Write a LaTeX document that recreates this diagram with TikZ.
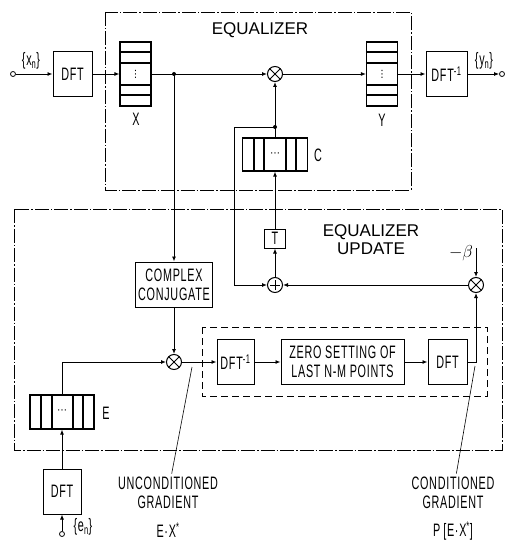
\documentclass[tikz,border=0pt]{standalone}
\usepackage{fontspec}
\setsansfont{Liberation Sans}
\newfontfamily\narrowfont{Liberation Sans}[FakeStretch=0.6, LetterSpace=4]
\newfontfamily\dotsfont{DejaVu Sans}
\usepackage{tikz}
\usetikzlibrary{arrows.meta}

\begin{document}
\begin{tikzpicture}[x=1pt, y=-1pt,
        every node/.style={font=\narrowfont\fontsize{18}{19}\selectfont},
        block/.style={rectangle, draw, line width=1pt, minimum width=#1, minimum height=45, inner sep=1pt, align=center},
        reg/.style={rectangle, draw, line width=1.2pt, inner sep=0pt, font=\dotsfont\fontsize{10}{10}\selectfont},
        mult/.style={circle, draw, line width=1pt, minimum size=15, inner sep=0pt,
            path picture={\draw[line width=1pt] (path picture bounding box.center) +(45:8) -- +(225:8) +(135:8) -- +(-45:8);}},
        add/.style={circle, draw, line width=1pt, minimum size=15, inner sep=0pt,
            path picture={\draw[line width=1pt] (path picture bounding box.center) +(0:5) -- +(180:5) +(90:5) -- +(-90:5);}},
        term/.style={circle, draw, line width=0.8pt, fill=white, minimum size=5, inner sep=0pt},
        sig/.style={->, >={Latex[length=5pt, width=4pt]}, line width=0.9pt},
        frame/.style={line width=0.9pt, dash pattern=on 14pt off 2pt on 1.5pt off 2pt},
        subframe/.style={line width=0.9pt, dash pattern=on 7pt off 4pt},
        title/.style={font=\sffamily\fontsize{17}{20}\selectfont, align=center}
    ]
    \useasboundingbox (0,0) rectangle (504,545);
%
    % Frames
    \draw[frame] (105,12) rectangle (411,190);
    \draw[frame] (14,209) rectangle (502,450);
    \draw[subframe] (202,327) rectangle (487,396);
    \node[title] (eqtitle) at (260,30) {EQUALIZER};
    \node[title] (uptitle) at (371,240) {EQUALIZER\\[-2pt]UPDATE};
%
    % Equalizer path
    \node[term] (xin) at (13,74) {};
    \node[block=39] (dftx) at (72.5,74) {DFT};
    \node[reg, minimum width=31, minimum height=64] (xreg) at (135.5,74) {⋮};
    \foreach \y in {-22,-11,11,21} {
        \draw[line width=1.2pt] ([yshift=-\y pt]xreg.west) -- ([yshift=-\y pt]xreg.east);
    }
    \coordinate (jx) at (174,74);
    \node[mult] (mulx) at (275,74) {};
    \node[reg, minimum width=31, minimum height=64] (yreg) at (382,74) {⋮};
    \foreach \y in {-22,-11,11,21} {
        \draw[line width=1.2pt] ([yshift=-\y pt]yreg.west) -- ([yshift=-\y pt]yreg.east);
    }
    \node[block=41] (idfty) at (446.5,74) {DFT\textsuperscript{-1}};
    \node[term] (yout) at (502,74) {};
%
    % Coefficients
    \coordinate (jc) at (275,127);
    \node[reg, minimum width=65, minimum height=33] (creg) at (275,154.5) {⋯};
    \foreach \x in {-21,-11,11,21} {
        \draw[line width=1.2pt] ([xshift=\x pt]creg.north) -- ([xshift=\x pt]creg.south);
    }
    \node[rectangle, draw, line width=1pt, minimum width=21, minimum height=19, inner sep=0pt] (tbox) at (275,238.5) {T};
    \node[add] (adder) at (275,285) {};
    \node[mult] (mulb) at (476,285) {};
    \coordinate (beta) at (476,248);
    \coordinate (fb) at (234,285);
%
    % Gradient path
    \node[block=77] (conj) at (174,284.5) {COMPLEX\\CONJUGATE};
    \node[mult] (mulc) at (174,362) {};
    \node[reg, minimum width=64, minimum height=34] (ereg) at (62,412) {⋯};
    \foreach \x in {-21,-10,11,21} {
        \draw[line width=1.2pt] ([xshift=\x pt]ereg.north) -- ([xshift=\x pt]ereg.south);
    }
    \node[block=38] (dfte) at (62,491.5) {DFT};
    \node[term] (ein) at (62,534) {};
    \node[block=37] (idftg) at (235.5,362) {DFT\textsuperscript{-1}};
    \node[block=123] (zero) at (342.5,362) {ZERO SETTING OF\\LAST N-M POINTS};
    \node[block=39] (dftg) at (447.5,362) {DFT};
%
    % Labels
    \node (xlab) at (136,119) {X};
    \node (ylab) at (382,120) {Y};
    \node (clab) at (318,155) {C};
    \node (elab) at (106,413) {E};
    \node (xnlab) at (31,61) {\{x\textsubscript{n}\}};
    \node (ynlab) at (484,61) {\{y\textsubscript{n}\}};
    \node (enlab) at (83,527) {\{e\textsubscript{n}\}};
    \node (betalab) at (461,253) {$-\beta$};
    \node[align=center] (unc) at (168,493) {UNCONDITIONED\\GRADIENT};
    \node (uncf) at (168,530) {E·X\textsuperscript{*}};
    \node[align=center] (cond) at (453,493) {CONDITIONED\\GRADIENT};
    \node (condf) at (453,531) {P\,[E·X\textsuperscript{*}]};
    \coordinate (ptu) at (192,367);
    \coordinate (ptc) at (475,366);
%
    % Connections
    \draw[sig] (xin) -- (dftx);
    \draw[sig] (dftx) -- (xreg);
    \draw[sig] (xreg) -- (mulx);
    \draw[sig] (mulx) -- (yreg);
    \draw[sig] (yreg) -- (idfty);
    \draw[sig] (idfty) -- (yout);
    \draw[sig] (creg) -- (mulx);
    \draw[sig] (tbox) -- (creg);
    \draw[sig] (adder) -- (tbox);
    \draw[sig] (jc) -| (fb) -- (adder);
    \draw[sig] (mulb) -- (adder);
    \draw[sig] (beta) -- (mulb);
    \draw[sig] (jx) -- (conj);
    \draw[sig] (conj) -- (mulc);
    \draw[sig] (ereg.north) |- (mulc);
    \draw[sig] (dfte) -- (ereg);
    \draw[sig] (ein) -- (dfte);
    \draw[sig] (mulc) -- (idftg);
    \draw[sig] (idftg) -- (zero);
    \draw[sig] (zero) -- (dftg);
    \draw[sig] (dftg.east) -| (mulb);
    \fill (jx) circle (2);
    \fill (jc) circle (2);
    \draw[line width=0.6pt] (ptu) -- (unc);
    \draw[line width=0.6pt] (ptc) -- (cond);
%
\end{tikzpicture}
\end{document}
